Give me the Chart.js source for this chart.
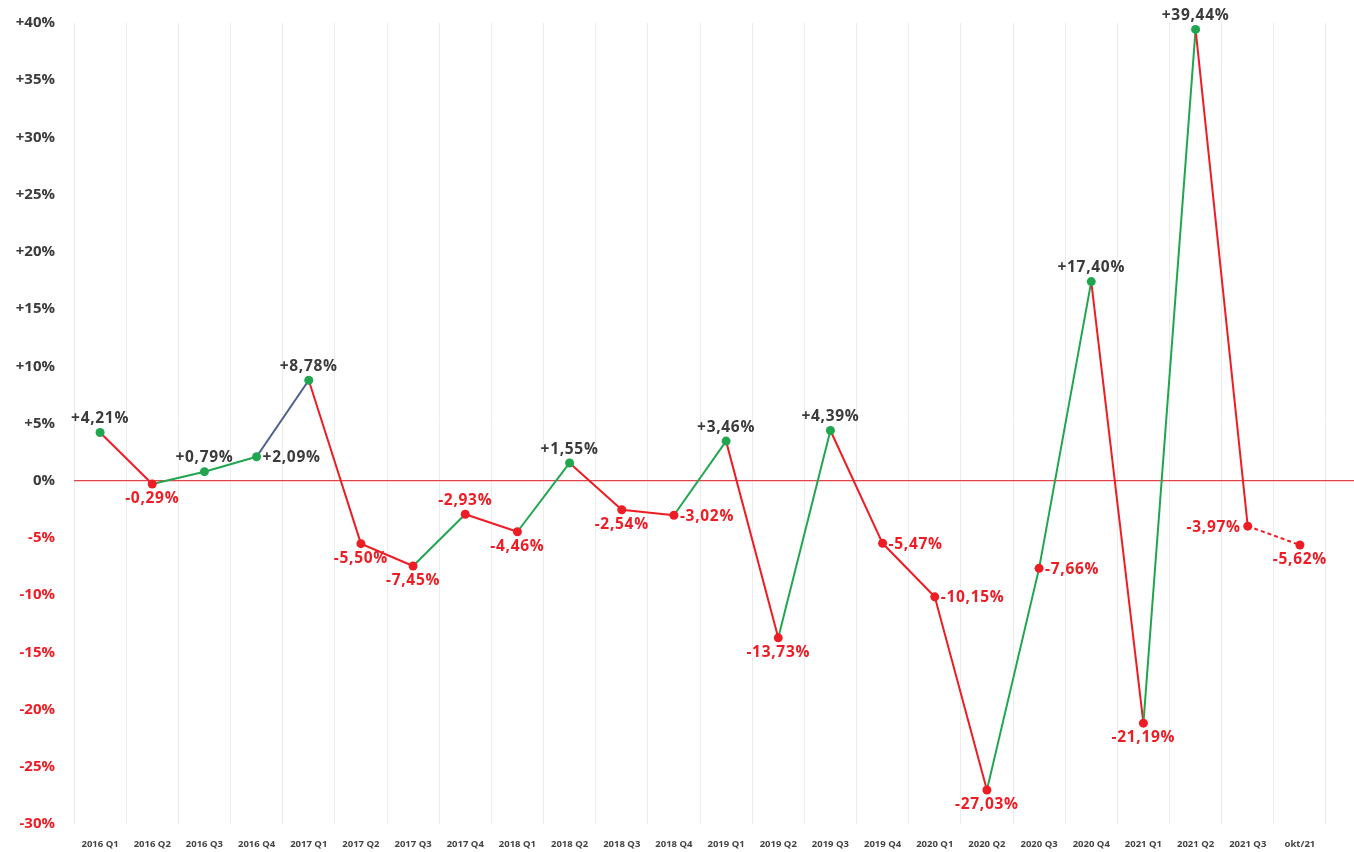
<!DOCTYPE html>
<html>
<head>
<meta charset="utf-8">
<script src="https://cdn.jsdelivr.net/npm/chart.js@4/dist/chart.umd.min.js"></script>
<style>
  html, body { margin: 0; padding: 0; background: #fff; }
  #wrap { width: 1354px; height: 852px; }
</style>
</head>
<body>
<div id="wrap"><canvas id="chartArea"></canvas></div>
<script>
// quarterly change, in percent
const quarters = [
  '2016 Q1', '2016 Q2', '2016 Q3', '2016 Q4',
  '2017 Q1', '2017 Q2', '2017 Q3', '2017 Q4',
  '2018 Q1', '2018 Q2', '2018 Q3', '2018 Q4',
  '2019 Q1', '2019 Q2', '2019 Q3', '2019 Q4',
  '2020 Q1', '2020 Q2', '2020 Q3', '2020 Q4',
  '2021 Q1', '2021 Q2', '2021 Q3', 'okt/21'
];
const changes = [
  4.21, -0.29, 0.79, 2.09,
  8.78, -5.50, -7.45, -2.93,
  -4.46, 1.55, -2.54, -3.02,
  3.46, -13.73, 4.39, -5.47,
  -10.15, -27.03, -7.66, 17.40,
  -21.19, 39.44, -3.97, -5.62
];
const yMin = -30;
const yMax = 40;
const yStep = 5;

// where each value label sits relative to its point
const labelSide = [
  'top', 'bottom', 'top', 'right',
  'top', 'bottom', 'bottom', 'top',
  'bottom', 'top', 'bottom', 'right',
  'top', 'bottom', 'top', 'right',
  'right', 'bottom', 'right', 'top',
  'bottom', 'top', 'left', 'bottom'
];

const RED = '#ee1d25';
const GREEN = '#21a650';
const DARK = '#3b3b3b';
const FONT = "'Open Sans', sans-serif";

// the one odd-coloured segment in the original (2016 Q4 -> 2017 Q1)
const segmentOverride = { 3: '#4d5f8e' };

function fmt(v) {
  let s = v.toFixed(2).replace('.', ',') + '%';
  return v > 0 ? '+' + s : s;
}

const zeroLine = {
  id: 'zeroLine',
  beforeDatasetsDraw(chart) {
    const ctx = chart.ctx;
    const y = chart.scales.y.getPixelForValue(0);
    ctx.save();
    ctx.strokeStyle = '#e2434b';
    ctx.lineWidth = 1.3;
    ctx.beginPath();
    ctx.moveTo(chart.chartArea.left, y);
    ctx.lineTo(chart.width, y);
    ctx.stroke();
    ctx.restore();
  }
};

const valueLabels = {
  id: 'valueLabels',
  afterDatasetsDraw(chart) {
    const ctx = chart.ctx;
    const meta = chart.getDatasetMeta(0);
    ctx.save();
    ctx.font = 'bold 15.5px ' + FONT;
    ctx.letterSpacing = '0.7px';
    meta.data.forEach((pt, i) => {
      const v = changes[i];
      const side = labelSide[i];
      ctx.fillStyle = v < 0 ? RED : DARK;
      let x = pt.x, y = pt.y;
      if (side === 'top') {
        ctx.textAlign = 'center'; ctx.textBaseline = 'bottom'; y -= 6;
      } else if (side === 'bottom') {
        ctx.textAlign = 'center'; ctx.textBaseline = 'top'; y += 7;
      } else if (side === 'right') {
        ctx.textAlign = 'left'; ctx.textBaseline = 'middle'; x += 6; y += 1;
      } else {
        ctx.textAlign = 'right'; ctx.textBaseline = 'middle'; x -= 7; y += 1;
      }
      ctx.fillText(fmt(v), x, y);
    });
    ctx.restore();
  }
};

const data = {
  labels: quarters,
  datasets: [{
    data: changes,
    borderWidth: 2,
    pointRadius: 4.5,
    pointHoverRadius: 4.5,
    pointBorderWidth: 0,
    pointBackgroundColor: ctx => changes[ctx.dataIndex] < 0 ? RED : GREEN,
    tension: 0,
    segment: {
      borderColor: ctx => {
        if (segmentOverride[ctx.p0DataIndex]) return segmentOverride[ctx.p0DataIndex];
        return ctx.p1.parsed.y >= ctx.p0.parsed.y ? GREEN : RED;
      },
      borderDash: ctx => ctx.p1DataIndex === quarters.length - 1 ? [4, 3] : undefined
    }
  }]
};

const config = {
  type: 'line',
  data: data,
  options: {
    responsive: false,
    animation: false,
    layout: { padding: { top: 23, right: 28, left: 0, bottom: 0 } },
    plugins: {
      legend: { display: false },
      tooltip: { enabled: false }
    },
    scales: {
      x: {
        offset: true,
        border: { display: false },
        grid: { offset: true, color: '#ececec', lineWidth: 1, drawTicks: false },
        ticks: {
          color: '#444',
          font: { family: FONT, size: 9.5, weight: 'bold' },
          maxRotation: 0,
          autoSkip: false,
          padding: 15
        },
        afterFit(scale) {
          scale.height = 28;
          scale.paddingLeft = 0;
          scale.paddingRight = 0;
        }
      },
      y: {
        min: yMin,
        max: yMax,
        border: { display: false },
        grid: { display: false, drawTicks: false },
        ticks: {
          stepSize: yStep,
          padding: 19,
          color: ctx => ctx.tick.value < 0 ? RED : DARK,
          font: { family: FONT, size: 15, weight: 'bold' },
          callback: v => (v > 0 ? '+' : '') + v + '%'
        },
        afterFit(scale) {
          scale.width = 74;
          scale.paddingTop = 0;
          scale.paddingBottom = 0;
        }
      }
    }
  },
  plugins: [zeroLine, valueLabels]
};

const canvas = document.getElementById('chartArea');
canvas.width = 1354;
canvas.height = 852;
canvas.style.width = '1354px';
canvas.style.height = '852px';
new Chart(canvas, config);
</script>
</body>
</html>
